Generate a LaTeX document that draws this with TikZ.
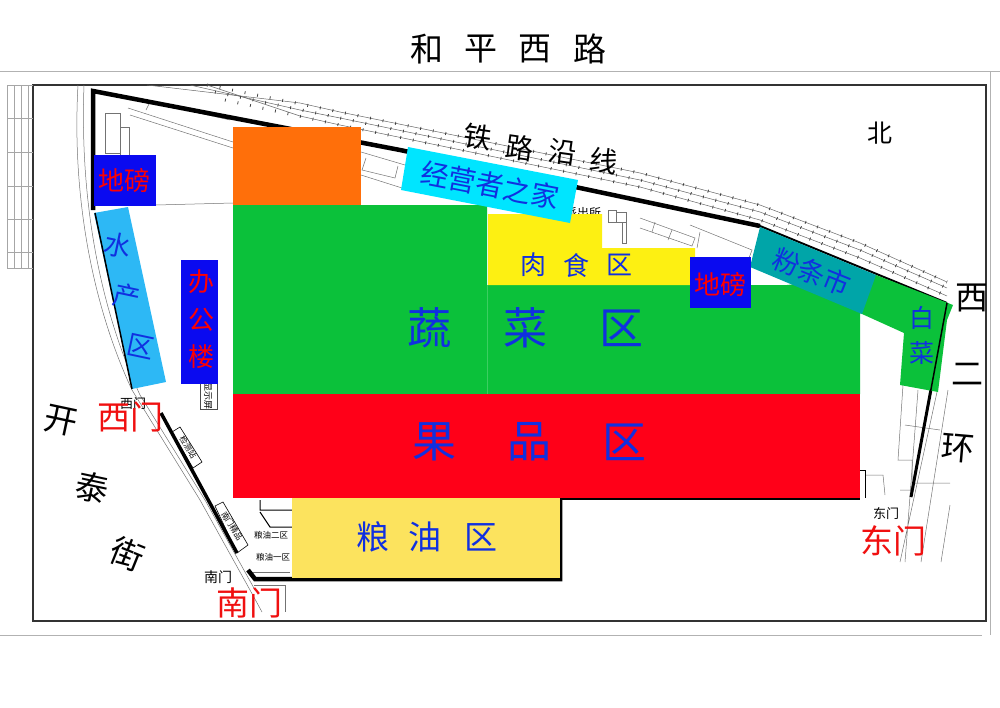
\documentclass[tikz,border=0pt]{standalone}
\usepackage{fontspec}
\newfontfamily\cjk{Noto Sans CJK SC}
\usepackage{tikz}
\definecolor{sitegreen}{HTML}{0BC13A}
\definecolor{sitered}{HTML}{FF0018}
\definecolor{siteorange}{HTML}{FF6F0A}
\definecolor{siteyellow}{HTML}{FDF012}
\definecolor{oilyellow}{HTML}{FCE35E}
\definecolor{sitecyan}{HTML}{00E5FF}
\definecolor{siteteal}{HTML}{00A5A8}
\definecolor{fishblue}{HTML}{2DB8F5}
\definecolor{boxblue}{HTML}{0A0AF0}
\definecolor{textblue}{HTML}{1030E0}
\definecolor{labelred}{HTML}{F01010}
\tikzset{
    lbl/.style={font=\cjk\fontsize{#1}{#1}\selectfont, inner sep=0pt},
    zone/.style={lbl=#1, text=textblue},
    gate/.style={lbl=#1, text=labelred},
    wall/.style={line width=4.5pt, black},
    plan/.style={line width=.5pt, black!55},
    track/.style={line width=.5pt, black!60},
    ties/.style={line width=3pt, black!75, dash pattern=on .8pt off 12pt}
}
\begin{document}
\begin{tikzpicture}[x=1pt, y=-1pt]
    \useasboundingbox (0,0) rectangle (1000,707);
    % frames
    \draw[black!30, line width=.8pt] (0,71)--(1000,71);
    \draw[black!30, line width=.8pt] (990,71)--(990,635);
    \draw[black!30, line width=.8pt] (0,635)--(982,635);
    \draw[black!80, line width=1.2pt] (33,85) rectangle (986,621);
    \draw[black!35, line width=.5pt] (7,85)--(7,268) (14,85)--(14,268) (21,85)--(21,268) (28,85)--(28,268);
    \draw[black!35, line width=.5pt] (7,85)--(33,85) (7,118)--(33,118) (7,152)--(33,152) (7,186)--(33,186) (7,219)--(33,219) (7,252)--(33,252) (7,268)--(33,268);

    % railway
    \draw[track] (147,85)--(300,103)--(340,112)--(640,173)--(760,205)--(860,243)--(947,282);
    \draw[track] (190,85)--(300,110)--(340,118)--(640,180)--(760,212)--(860,250)--(947,288);
    \draw[track] (207,85)--(300,116)--(340,125)--(640,187)--(760,220)--(860,258)--(947,296);
    \draw[ties] (207,85)--(340,112)--(640,173)--(760,205)--(860,243)--(947,282);
    \draw[ties] (215,92)--(340,118)--(640,180)--(760,212)--(860,250)--(947,288);
    \draw[ties] (225,100)--(340,125)--(640,187)--(760,220)--(860,258)--(947,296);

    % roads and plan lines
    \draw[plan] (78,85) .. controls (72,190) and (90,300) .. (132,390) -- (200,500) -- (250,590) -- (262,612);
    \draw[plan] (84,85) .. controls (80,190) and (96,300) .. (140,395) -- (205,500) -- (255,590);
    \draw[plan] (128,108)--(233,142) (130,115)--(233,148) (150,102)--(230,120) (150,102)--(146,110);
    \draw[plan] (105,113) rectangle (120,153) (120,127) rectangle (129,155);
    \draw[plan] (156,205)--(233,203);
    \draw[plan] (361,152)--(405,165) (361,175)--(402,188) (366,158)--(362,170)--(395,178)--(398,166);
    \draw[plan] (608,210) rectangle (616,222) (616,212) rectangle (626,222) (622,222) rectangle (626,243);
    \draw[plan] (640,218)--(695,238)--(692,246)--(640,228) (655,222)--(652,232) (672,230)--(668,240);
    \draw[plan] (690,225)--(752,250)--(749,258) (700,232)--(697,248);
    \draw[plan] (948,390)--(921,562) (937,392)--(900,562) (918,390)--(905,562);
    \draw[plan] (903,385)--(898,460)--(912,460)--(912,490)--(900,490);
    \draw[plan] (905,425)--(940,430) (915,483)--(950,483) (950,505)--(941,562);
    \draw[plan] (865,475)--(883,475)--(885,495);
    \draw[plan] (254,585)--(285,585)--(285,612) (253,572)--(290,572);
    \draw[black, line width=1pt] (860,470)--(865,470)--(865,498);
    \draw[black, line width=1pt] (260,500)--(260,510)--(292,510) (260,512)--(270,527)--(292,527);

    % small plan boxes
    \draw[black!70, line width=.6pt] (200,382) rectangle (217,409);
    \node[lbl=9, rotate=-90] (screen) at (208,396) {显示屏};
    \draw[black, line width=.6pt] (180,427)--(202,462)--(193,468)--(172,432)--cycle;
    \node[lbl=8, rotate=-58] (station) at (188,447) {检测站};
    \draw[black, line width=.6pt] (215,506)--(223,502)--(248,545)--(237,553)--cycle;
    \node[lbl=8, rotate=-58] (shop) at (232,526) {南门精品};
    \node[lbl=12] (police) at (583,213) {派出所};

    % walls
    \draw[wall] (93,210)--(93,91)--(400,150)--(760,226);
    \draw[black, line width=2pt] (760,226)--(947,303);
    \draw[black, line width=3pt] (947,303)--(911,497);
    \draw[line width=3.5pt] (161,413)--(237,553);
    \draw[wall] (248,570)--(255,579)--(292,579)--(560,579)--(560,498);
    \draw[line width=3pt] (560,498)--(860,498);

    % zones
    \fill[sitegreen] (233,205)--(487,205)--(487,285)--(860,285)--(860,394)--(233,394)--cycle;
    \fill[sitegreen] (787,285)--(876,275)--(953,305)--(947,320)--(938,392)--(900,385)--(904,333)--(862,314)--cycle;
    \fill[siteorange] (233,127) rectangle (361,205);
    \fill[sitered] (233,394) rectangle (860,498);
    \fill[siteyellow] (488,214)--(602,214)--(602,248)--(695,248)--(695,285)--(488,285)--cycle;
    \fill[oilyellow] (292,498) rectangle (560,578);
    \fill[sitecyan] (408,147)--(578,180)--(570,223)--(401,190)--cycle;
    \fill[siteteal] (760,227)--(876,275)--(862,314)--(750,267)--cycle;
    \fill[fishblue] (94,213)--(128,207)--(166,382)--(132,389)--cycle;
    \fill[boxblue] (94,155) rectangle (156,206);
    \fill[boxblue] (690,257) rectangle (751,308);
    \fill[boxblue] (181,260) rectangle (218,384);
    \draw[sitegreen!80!white, line width=.5pt] (487,285)--(487,394);
    \draw[black, line width=1.5pt] (947,303)--(911,497);
    \draw[black, line width=1.5pt] (95,213)--(132,389);

    % title and streets
    \node[lbl=33] (he) at (427,49) {和};
    \node[lbl=33] (ping) at (481,49) {平};
    \node[lbl=33] (xi) at (535,49) {西};
    \node[lbl=33] (lu) at (590,49) {路};
    \node[lbl=25] (north) at (880,133) {北};
    \node[lbl=28, rotate=-8] (tie) at (478,137) {铁};
    \node[lbl=28, rotate=-8] (road) at (520,148) {路};
    \node[lbl=28, rotate=-8] (along) at (563,152) {沿};
    \node[lbl=28, rotate=-8] (line) at (604,161) {线};
    \node[lbl=33] (ringa) at (972,298) {西};
    \node[lbl=32] (ringb) at (967,374) {二};
    \node[lbl=33, rotate=-5] (ringc) at (958,448) {环};
    \node[lbl=33, rotate=-12] (kai) at (61,421) {开};
    \node[lbl=33, rotate=-12] (tai) at (92,488) {泰};
    \node[lbl=33, rotate=-22] (jie) at (127,554) {街};

    % zone labels
    \node[zone=44] (veg1) at (429,328) {蔬};
    \node[zone=44] (veg2) at (525,328) {菜};
    \node[zone=44] (veg3) at (621,328) {区};
    \node[zone=44] (fruit1) at (434,442) {果};
    \node[zone=44] (fruit2) at (529,442) {品};
    \node[zone=44] (fruit3) at (624,442) {区};
    \node[zone=33] (oil1) at (373,537) {粮};
    \node[zone=33] (oil2) at (425,537) {油};
    \node[zone=33] (oil3) at (481,537) {区};
    \node[zone=26] (meat1) at (533,265) {肉};
    \node[zone=26] (meat2) at (576,265) {食};
    \node[zone=26] (meat3) at (619,265) {区};
    \node[zone=28, rotate=-11] (home) at (490,185) {经营者之家};
    \node[zone=27, rotate=-22] (noodle) at (812,272) {粉条市};
    \node[zone=25] (cab1) at (922,318) {白};
    \node[zone=25] (cab2) at (922,353) {菜};
    \node[zone=27, rotate=-12] (fish1) at (118,245) {水};
    \node[zone=27, rotate=-12] (fish2) at (127,296) {产};
    \node[zone=27, rotate=-12] (fish3) at (141,347) {区};
    \node[lbl=26, text=red] (scale1) at (124,180) {地磅};
    \node[lbl=26, text=red] (scale2) at (720,284) {地磅};
    \node[lbl=26, text=red] (office1) at (201,282) {办};
    \node[lbl=26, text=red] (office2) at (201,320) {公};
    \node[lbl=26, text=red] (office3) at (201,357) {楼};

    % gates
    \node[lbl=13] (westsmall) at (133,404) {西门};
    \node[lbl=14] (southsmall) at (218,577) {南门};
    \node[lbl=13] (eastsmall) at (886,514) {东门};
    \node[lbl=8.5] (oiltwo) at (271,535) {粮油二区};
    \node[lbl=8.5] (oilone) at (273,557) {粮油一区};
    \node[gate=33] (westgate) at (130,417) {西门};
    \node[gate=33] (southgate) at (249,603) {南门};
    \node[gate=33] (eastgate) at (893,541) {东门};
\end{tikzpicture}
\end{document}
